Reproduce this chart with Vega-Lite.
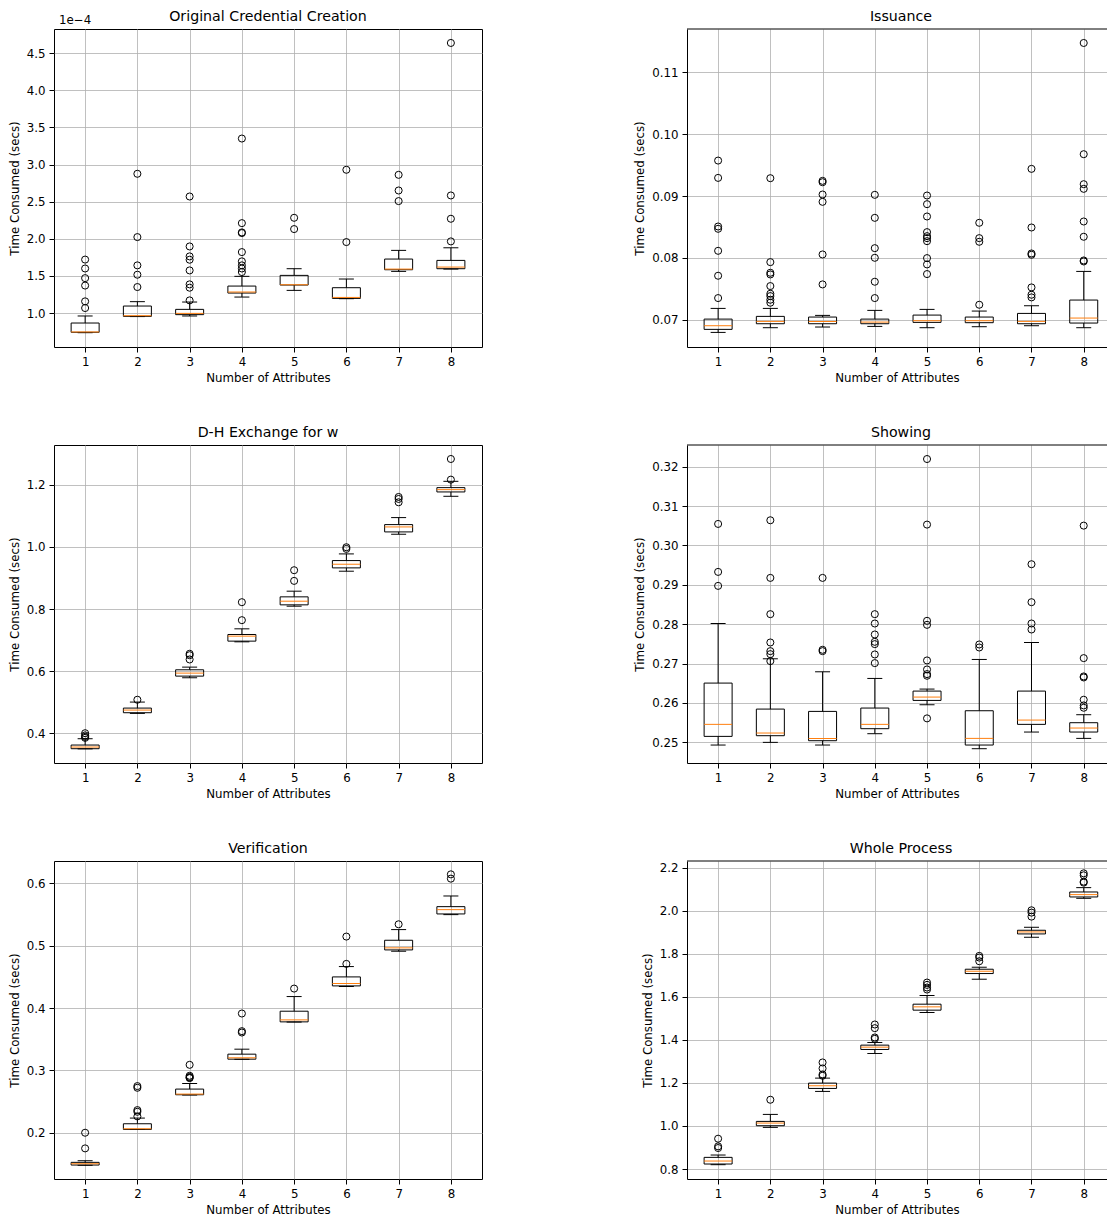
{
  "$schema": "https://vega.github.io/schema/vega-lite/v6.json",
  "padding": {"left": 8, "top": 9, "right": 0, "bottom": 0},
  "autosize": {"type": "pad"},
  "config": {
    "font": "DejaVu Sans",
    "view": {"stroke": "black", "strokeWidth": 1},
    "axis": {"grid": true, "gridColor": "#b0b0b0", "gridWidth": 0.8, "domain": false, "ticks": true, "tickColor": "black", "tickSize": 5, "tickWidth": 1, "labelFontSize": 11.8, "labelColor": "black", "labelPadding": 4, "titleFontSize": 11.8, "titleFontWeight": "normal", "titleColor": "black"},
    "axisX": {"titlePadding": 5, "labelAngle": 0},
    "axisY": {"titlePadding": 6},
    "title": {"fontSize": 14.2, "fontWeight": "normal", "color": "black", "offset": 5},
    "tick": {"opacity": 1},
    "point": {"opacity": 1}
  },
  "datasets": {
    "b1": [
      {"n": 1, "q1": 0.74, "med": 0.745, "q3": 0.865, "lo": 0.735, "hi": 0.96},
      {"n": 2, "q1": 0.955, "med": 0.964, "q3": 1.094, "lo": 0.952, "hi": 1.153},
      {"n": 3, "q1": 0.978, "med": 0.995, "q3": 1.049, "lo": 0.96, "hi": 1.148},
      {"n": 4, "q1": 1.269, "med": 1.283, "q3": 1.363, "lo": 1.215, "hi": 1.494},
      {"n": 5, "q1": 1.377, "med": 1.381, "q3": 1.507, "lo": 1.305, "hi": 1.597},
      {"n": 6, "q1": 1.197, "med": 1.21, "q3": 1.341, "lo": 1.193, "hi": 1.458},
      {"n": 7, "q1": 1.583, "med": 1.592, "q3": 1.727, "lo": 1.561, "hi": 1.844},
      {"n": 8, "q1": 1.597, "med": 1.619, "q3": 1.709, "lo": 1.592, "hi": 1.879}
    ],
    "o1": [
      {"n": 1, "v": 1.72}, {"n": 1, "v": 1.6}, {"n": 1, "v": 1.47}, {"n": 1, "v": 1.37}, {"n": 1, "v": 1.157}, {"n": 1, "v": 1.067},
      {"n": 2, "v": 2.876}, {"n": 2, "v": 2.023}, {"n": 2, "v": 1.642}, {"n": 2, "v": 1.516}, {"n": 2, "v": 1.35},
      {"n": 3, "v": 2.57}, {"n": 3, "v": 1.897}, {"n": 3, "v": 1.763}, {"n": 3, "v": 1.718}, {"n": 3, "v": 1.574}, {"n": 3, "v": 1.386}, {"n": 3, "v": 1.341}, {"n": 3, "v": 1.17},
      {"n": 4, "v": 3.351}, {"n": 4, "v": 2.211}, {"n": 4, "v": 2.086}, {"n": 4, "v": 2.077}, {"n": 4, "v": 1.821}, {"n": 4, "v": 1.696}, {"n": 4, "v": 1.642}, {"n": 4, "v": 1.6}, {"n": 4, "v": 1.552},
      {"n": 5, "v": 2.283}, {"n": 5, "v": 2.131},
      {"n": 6, "v": 2.93}, {"n": 6, "v": 1.956},
      {"n": 7, "v": 2.862}, {"n": 7, "v": 2.651}, {"n": 7, "v": 2.508},
      {"n": 8, "v": 4.639}, {"n": 8, "v": 2.584}, {"n": 8, "v": 2.27}, {"n": 8, "v": 1.965}
    ],
    "b2": [
      {"n": 1, "q1": 0.06844, "med": 0.06903, "q3": 0.0701, "lo": 0.06795, "hi": 0.07183},
      {"n": 2, "q1": 0.06935, "med": 0.06973, "q3": 0.07054, "lo": 0.06871, "hi": 0.07183},
      {"n": 3, "q1": 0.06935, "med": 0.06973, "q3": 0.07043, "lo": 0.06882, "hi": 0.0707},
      {"n": 4, "q1": 0.06935, "med": 0.06962, "q3": 0.0701, "lo": 0.06892, "hi": 0.07151},
      {"n": 5, "q1": 0.06957, "med": 0.06984, "q3": 0.07075, "lo": 0.06871, "hi": 0.07167},
      {"n": 6, "q1": 0.06952, "med": 0.06984, "q3": 0.07043, "lo": 0.06887, "hi": 0.0714},
      {"n": 7, "q1": 0.06935, "med": 0.06973, "q3": 0.07102, "lo": 0.06903, "hi": 0.07226},
      {"n": 8, "q1": 0.06946, "med": 0.07027, "q3": 0.07318, "lo": 0.06871, "hi": 0.07781}
    ],
    "o2": [
      {"n": 1, "v": 0.09573}, {"n": 1, "v": 0.09293}, {"n": 1, "v": 0.08507}, {"n": 1, "v": 0.0847}, {"n": 1, "v": 0.08114}, {"n": 1, "v": 0.07711}, {"n": 1, "v": 0.0735},
      {"n": 2, "v": 0.09288}, {"n": 2, "v": 0.07931}, {"n": 2, "v": 0.07759}, {"n": 2, "v": 0.07732}, {"n": 2, "v": 0.07544}, {"n": 2, "v": 0.0742}, {"n": 2, "v": 0.07382}, {"n": 2, "v": 0.07323}, {"n": 2, "v": 0.07275},
      {"n": 3, "v": 0.09245}, {"n": 3, "v": 0.09223}, {"n": 3, "v": 0.09024}, {"n": 3, "v": 0.08906}, {"n": 3, "v": 0.08055}, {"n": 3, "v": 0.07571},
      {"n": 4, "v": 0.09019}, {"n": 4, "v": 0.08647}, {"n": 4, "v": 0.08157}, {"n": 4, "v": 0.08001}, {"n": 4, "v": 0.07614}, {"n": 4, "v": 0.0735},
      {"n": 5, "v": 0.09008}, {"n": 5, "v": 0.08868}, {"n": 5, "v": 0.08669}, {"n": 5, "v": 0.08416}, {"n": 5, "v": 0.08351}, {"n": 5, "v": 0.08319}, {"n": 5, "v": 0.0827}, {"n": 5, "v": 0.07996}, {"n": 5, "v": 0.07894}, {"n": 5, "v": 0.07738},
      {"n": 6, "v": 0.08567}, {"n": 6, "v": 0.08319}, {"n": 6, "v": 0.0826}, {"n": 6, "v": 0.07242},
      {"n": 7, "v": 0.09439}, {"n": 7, "v": 0.08491}, {"n": 7, "v": 0.08071}, {"n": 7, "v": 0.0805}, {"n": 7, "v": 0.07522}, {"n": 7, "v": 0.07404}, {"n": 7, "v": 0.07361},
      {"n": 8, "v": 0.11474}, {"n": 8, "v": 0.09676}, {"n": 8, "v": 0.09191}, {"n": 8, "v": 0.09116}, {"n": 8, "v": 0.08588}, {"n": 8, "v": 0.08341}, {"n": 8, "v": 0.07958}, {"n": 8, "v": 0.07942}
    ],
    "b3": [
      {"n": 1, "q1": 0.3495, "med": 0.3549, "q3": 0.3613, "lo": 0.349, "hi": 0.3817},
      {"n": 2, "q1": 0.4655, "med": 0.4741, "q3": 0.4805, "lo": 0.4634, "hi": 0.4999},
      {"n": 3, "q1": 0.5836, "med": 0.5933, "q3": 0.604, "lo": 0.5783, "hi": 0.6126},
      {"n": 4, "q1": 0.6964, "med": 0.7125, "q3": 0.7178, "lo": 0.6942, "hi": 0.7361},
      {"n": 5, "q1": 0.8134, "med": 0.8252, "q3": 0.8392, "lo": 0.8091, "hi": 0.8575},
      {"n": 6, "q1": 0.9326, "med": 0.9444, "q3": 0.9562, "lo": 0.9219, "hi": 0.9777},
      {"n": 7, "q1": 1.0486, "med": 1.0647, "q3": 1.0722, "lo": 1.0411, "hi": 1.0948},
      {"n": 8, "q1": 1.1775, "med": 1.185, "q3": 1.1914, "lo": 1.1635, "hi": 1.2118}
    ],
    "o3": [
      {"n": 1, "v": 0.3995}, {"n": 1, "v": 0.3925}, {"n": 1, "v": 0.388}, {"n": 1, "v": 0.3845},
      {"n": 2, "v": 0.5074},
      {"n": 3, "v": 0.6556}, {"n": 3, "v": 0.651}, {"n": 3, "v": 0.6373},
      {"n": 4, "v": 0.822}, {"n": 4, "v": 0.764},
      {"n": 5, "v": 0.9251}, {"n": 5, "v": 0.8907},
      {"n": 6, "v": 0.9992}, {"n": 6, "v": 0.9938},
      {"n": 7, "v": 1.1613}, {"n": 7, "v": 1.1549}, {"n": 7, "v": 1.1442},
      {"n": 8, "v": 1.2838}, {"n": 8, "v": 1.2172}
    ],
    "b4": [
      {"n": 1, "q1": 0.25152, "med": 0.25457, "q3": 0.26505, "lo": 0.24932, "hi": 0.28018},
      {"n": 2, "q1": 0.25169, "med": 0.25237, "q3": 0.25845, "lo": 0.25, "hi": 0.27122},
      {"n": 3, "q1": 0.25042, "med": 0.25101, "q3": 0.25786, "lo": 0.24932, "hi": 0.26792},
      {"n": 4, "q1": 0.25347, "med": 0.25457, "q3": 0.25871, "lo": 0.2522, "hi": 0.26623},
      {"n": 5, "q1": 0.26065, "med": 0.2615, "q3": 0.26302, "lo": 0.25955, "hi": 0.26353},
      {"n": 6, "q1": 0.24932, "med": 0.25101, "q3": 0.25803, "lo": 0.24839, "hi": 0.27105},
      {"n": 7, "q1": 0.25457, "med": 0.25566, "q3": 0.26302, "lo": 0.25262, "hi": 0.27536},
      {"n": 8, "q1": 0.25262, "med": 0.25364, "q3": 0.25499, "lo": 0.25101, "hi": 0.25702}
    ],
    "o4": [
      {"n": 1, "v": 0.30546}, {"n": 1, "v": 0.29328}, {"n": 1, "v": 0.28973},
      {"n": 2, "v": 0.30639}, {"n": 2, "v": 0.29176}, {"n": 2, "v": 0.28255}, {"n": 2, "v": 0.27536}, {"n": 2, "v": 0.27316}, {"n": 2, "v": 0.2724}, {"n": 2, "v": 0.27063},
      {"n": 3, "v": 0.29176}, {"n": 3, "v": 0.2735}, {"n": 3, "v": 0.27316},
      {"n": 4, "v": 0.28255}, {"n": 4, "v": 0.28018}, {"n": 4, "v": 0.27739}, {"n": 4, "v": 0.27553}, {"n": 4, "v": 0.27494}, {"n": 4, "v": 0.27232}, {"n": 4, "v": 0.27012},
      {"n": 5, "v": 0.32194}, {"n": 5, "v": 0.30529}, {"n": 5, "v": 0.28086}, {"n": 5, "v": 0.27984}, {"n": 5, "v": 0.2708}, {"n": 5, "v": 0.26851}, {"n": 5, "v": 0.26733}, {"n": 5, "v": 0.26691}, {"n": 5, "v": 0.25609},
      {"n": 6, "v": 0.27485}, {"n": 6, "v": 0.27409},
      {"n": 7, "v": 0.29523}, {"n": 7, "v": 0.28559}, {"n": 7, "v": 0.28018}, {"n": 7, "v": 0.27866},
      {"n": 8, "v": 0.30503}, {"n": 8, "v": 0.27139}, {"n": 8, "v": 0.26674}, {"n": 8, "v": 0.26648}, {"n": 8, "v": 0.26082}, {"n": 8, "v": 0.25938}, {"n": 8, "v": 0.25879}
    ],
    "b5": [
      {"n": 1, "q1": 0.1482, "med": 0.1503, "q3": 0.1525, "lo": 0.1478, "hi": 0.1551},
      {"n": 2, "q1": 0.2053, "med": 0.2064, "q3": 0.2144, "lo": 0.2053, "hi": 0.2235},
      {"n": 3, "q1": 0.2609, "med": 0.262, "q3": 0.27, "lo": 0.2605, "hi": 0.279},
      {"n": 4, "q1": 0.318, "med": 0.3202, "q3": 0.326, "lo": 0.3178, "hi": 0.334},
      {"n": 5, "q1": 0.3778, "med": 0.381, "q3": 0.3949, "lo": 0.3775, "hi": 0.4184},
      {"n": 6, "q1": 0.4355, "med": 0.4393, "q3": 0.4499, "lo": 0.4345, "hi": 0.4665},
      {"n": 7, "q1": 0.4932, "med": 0.4965, "q3": 0.5087, "lo": 0.4911, "hi": 0.5258},
      {"n": 8, "q1": 0.5509, "med": 0.5578, "q3": 0.5626, "lo": 0.5498, "hi": 0.5797}
    ],
    "o5": [
      {"n": 1, "v": 0.2}, {"n": 1, "v": 0.1749},
      {"n": 2, "v": 0.2748}, {"n": 2, "v": 0.2721}, {"n": 2, "v": 0.2363}, {"n": 2, "v": 0.2336}, {"n": 2, "v": 0.2262},
      {"n": 3, "v": 0.3089}, {"n": 3, "v": 0.2913}, {"n": 3, "v": 0.2895}, {"n": 3, "v": 0.2884}, {"n": 3, "v": 0.2876},
      {"n": 4, "v": 0.3912}, {"n": 4, "v": 0.3629}, {"n": 4, "v": 0.3607},
      {"n": 5, "v": 0.4312},
      {"n": 6, "v": 0.5146}, {"n": 6, "v": 0.4708},
      {"n": 7, "v": 0.5343},
      {"n": 8, "v": 0.6144}, {"n": 8, "v": 0.6075}
    ],
    "b6": [
      {"n": 1, "q1": 0.8232, "med": 0.8371, "q3": 0.8541, "lo": 0.8201, "hi": 0.865},
      {"n": 2, "q1": 1.0011, "med": 1.0135, "q3": 1.0212, "lo": 0.9934, "hi": 1.0537},
      {"n": 3, "q1": 1.1744, "med": 1.1868, "q3": 1.1991, "lo": 1.1605, "hi": 1.2223},
      {"n": 4, "q1": 1.3554, "med": 1.3662, "q3": 1.3755, "lo": 1.3368, "hi": 1.3879},
      {"n": 5, "q1": 1.538, "med": 1.5534, "q3": 1.5658, "lo": 1.5271, "hi": 1.606},
      {"n": 6, "q1": 1.7081, "med": 1.7189, "q3": 1.7282, "lo": 1.6818, "hi": 1.7375},
      {"n": 7, "q1": 1.8922, "med": 1.9015, "q3": 1.9092, "lo": 1.8767, "hi": 1.9231},
      {"n": 8, "q1": 2.0639, "med": 2.0748, "q3": 2.0871, "lo": 2.0577, "hi": 2.1073}
    ],
    "o6": [
      {"n": 1, "v": 0.9408}, {"n": 1, "v": 0.9052}, {"n": 1, "v": 0.8975},
      {"n": 2, "v": 1.1218},
      {"n": 3, "v": 1.295}, {"n": 3, "v": 1.2672}, {"n": 3, "v": 1.2394}, {"n": 3, "v": 1.2332},
      {"n": 4, "v": 1.4714}, {"n": 4, "v": 1.4544}, {"n": 4, "v": 1.4111}, {"n": 4, "v": 1.4049},
      {"n": 5, "v": 1.6663}, {"n": 5, "v": 1.6555}, {"n": 5, "v": 1.6431}, {"n": 5, "v": 1.6338},
      {"n": 6, "v": 1.7901}, {"n": 6, "v": 1.7824}, {"n": 6, "v": 1.7653},
      {"n": 7, "v": 2.002}, {"n": 7, "v": 1.9912}, {"n": 7, "v": 1.9726},
      {"n": 8, "v": 2.1737}, {"n": 8, "v": 2.1645}, {"n": 8, "v": 2.1351}, {"n": 8, "v": 2.1305}
    ]
  },
  "columns": 2,
  "bounds": "flush",
  "spacing": {"row": 98, "column": 205},
  "concat": [
    {
      "title": {"text": "Original Credential Creation", "offset": -9},
      "width": 428, "height": 318,
      "layer": [
        {"data": {"name": "b1"}, "mark": {"type": "rule", "color": "black", "strokeWidth": 1},
         "encoding": {
           "x": {"field": "n", "type": "quantitative", "scale": {"domain": [0.5, 8.5], "nice": false, "zero": false}, "axis": {"values": [1, 2, 3, 4, 5, 6, 7, 8], "format": "d", "title": "Number of Attributes"}},
           "y": {"field": "q3", "type": "quantitative", "scale": {"domain": [0.542, 4.827], "nice": false, "zero": false}, "axis": {"values": [1, 1.5, 2, 2.5, 3, 3.5, 4, 4.5], "format": ".1f", "title": "Time Consumed (secs)"}},
           "y2": {"field": "hi"}}},
        {"data": {"name": "b1"}, "mark": {"type": "rule", "color": "black", "strokeWidth": 1}, "encoding": {"x": {"field": "n", "type": "quantitative"}, "y": {"field": "lo", "type": "quantitative"}, "y2": {"field": "q1"}}},
        {"data": {"name": "b1"}, "mark": {"type": "tick", "orient": "horizontal", "size": 15, "thickness": 1, "color": "black"}, "encoding": {"x": {"field": "n", "type": "quantitative"}, "y": {"field": "hi", "type": "quantitative"}}},
        {"data": {"name": "b1"}, "mark": {"type": "tick", "orient": "horizontal", "size": 15, "thickness": 1, "color": "black"}, "encoding": {"x": {"field": "n", "type": "quantitative"}, "y": {"field": "lo", "type": "quantitative"}}},
        {"data": {"name": "b1"}, "mark": {"type": "bar", "width": 28, "fill": "white", "fillOpacity": 0, "stroke": "black", "strokeWidth": 1}, "encoding": {"x": {"field": "n", "type": "quantitative"}, "y": {"field": "q1", "type": "quantitative"}, "y2": {"field": "q3"}}},
        {"data": {"name": "b1"}, "mark": {"type": "tick", "orient": "horizontal", "size": 28, "thickness": 1, "color": "#ff7f0e"}, "encoding": {"x": {"field": "n", "type": "quantitative"}, "y": {"field": "med", "type": "quantitative"}}},
        {"data": {"name": "o1"}, "mark": {"type": "point", "shape": "circle", "filled": false, "size": 50, "color": "black", "strokeWidth": 1}, "encoding": {"x": {"field": "n", "type": "quantitative"}, "y": {"field": "v", "type": "quantitative"}}},
        {"data": {"values": [{"t": "1e−4"}]}, "mark": {"type": "text", "align": "left", "baseline": "bottom", "dy": -3, "fontSize": 11.8, "color": "black"}, "encoding": {"x": {"datum": 0.5}, "y": {"datum": 4.827}, "text": {"field": "t"}}}
      ]
    },
    {
      "title": {"text": "Issuance", "dx": 4, "offset": 4},
      "width": 420, "height": 318,
      "view": {"stroke": null},
      "layer": [
        {"data": {"name": "b2"}, "mark": {"type": "rule", "color": "black", "strokeWidth": 1},
         "encoding": {
           "x": {"field": "n", "type": "quantitative", "scale": {"domain": [0.5, 8.35], "nice": false, "zero": false}, "axis": {"values": [1, 2, 3, 4, 5, 6, 7, 8], "format": "d", "title": "Number of Attributes", "domain": true, "domainColor": "black", "domainWidth": 1}},
           "y": {"field": "q3", "type": "quantitative", "scale": {"domain": [0.06559, 0.117], "nice": false, "zero": false}, "axis": {"values": [0.07, 0.08, 0.09, 0.1, 0.11], "format": ".2f", "title": "Time Consumed (secs)", "domain": true, "domainColor": "black", "domainWidth": 1}},
           "y2": {"field": "hi"}}},
        {"data": {"name": "b2"}, "mark": {"type": "rule", "color": "black", "strokeWidth": 1}, "encoding": {"x": {"field": "n", "type": "quantitative"}, "y": {"field": "lo", "type": "quantitative"}, "y2": {"field": "q1"}}},
        {"data": {"name": "b2"}, "mark": {"type": "tick", "orient": "horizontal", "size": 15, "thickness": 1, "color": "black"}, "encoding": {"x": {"field": "n", "type": "quantitative"}, "y": {"field": "hi", "type": "quantitative"}}},
        {"data": {"name": "b2"}, "mark": {"type": "tick", "orient": "horizontal", "size": 15, "thickness": 1, "color": "black"}, "encoding": {"x": {"field": "n", "type": "quantitative"}, "y": {"field": "lo", "type": "quantitative"}}},
        {"data": {"name": "b2"}, "mark": {"type": "bar", "width": 28, "fill": "white", "fillOpacity": 0, "stroke": "black", "strokeWidth": 1}, "encoding": {"x": {"field": "n", "type": "quantitative"}, "y": {"field": "q1", "type": "quantitative"}, "y2": {"field": "q3"}}},
        {"data": {"name": "b2"}, "mark": {"type": "tick", "orient": "horizontal", "size": 28, "thickness": 1, "color": "#ff7f0e"}, "encoding": {"x": {"field": "n", "type": "quantitative"}, "y": {"field": "med", "type": "quantitative"}}},
        {"data": {"name": "o2"}, "mark": {"type": "point", "shape": "circle", "filled": false, "size": 50, "color": "black", "strokeWidth": 1}, "encoding": {"x": {"field": "n", "type": "quantitative"}, "y": {"field": "v", "type": "quantitative"}}},
        {"data": {"values": [{}]}, "mark": {"type": "rule", "color": "black", "strokeWidth": 1}, "encoding": {"y": {"datum": 0.117}}}
      ]
    },
    {
      "title": "D-H Exchange for w",
      "width": 428, "height": 318,
      "layer": [
        {"data": {"name": "b3"}, "mark": {"type": "rule", "color": "black", "strokeWidth": 1},
         "encoding": {
           "x": {"field": "n", "type": "quantitative", "scale": {"domain": [0.5, 8.5], "nice": false, "zero": false}, "axis": {"values": [1, 2, 3, 4, 5, 6, 7, 8], "format": "d", "title": "Number of Attributes"}},
           "y": {"field": "q3", "type": "quantitative", "scale": {"domain": [0.3034, 1.3289], "nice": false, "zero": false}, "axis": {"values": [0.4, 0.6, 0.8, 1.0, 1.2], "format": ".1f", "title": "Time Consumed (secs)"}},
           "y2": {"field": "hi"}}},
        {"data": {"name": "b3"}, "mark": {"type": "rule", "color": "black", "strokeWidth": 1}, "encoding": {"x": {"field": "n", "type": "quantitative"}, "y": {"field": "lo", "type": "quantitative"}, "y2": {"field": "q1"}}},
        {"data": {"name": "b3"}, "mark": {"type": "tick", "orient": "horizontal", "size": 15, "thickness": 1, "color": "black"}, "encoding": {"x": {"field": "n", "type": "quantitative"}, "y": {"field": "hi", "type": "quantitative"}}},
        {"data": {"name": "b3"}, "mark": {"type": "tick", "orient": "horizontal", "size": 15, "thickness": 1, "color": "black"}, "encoding": {"x": {"field": "n", "type": "quantitative"}, "y": {"field": "lo", "type": "quantitative"}}},
        {"data": {"name": "b3"}, "mark": {"type": "bar", "width": 28, "fill": "white", "fillOpacity": 0, "stroke": "black", "strokeWidth": 1}, "encoding": {"x": {"field": "n", "type": "quantitative"}, "y": {"field": "q1", "type": "quantitative"}, "y2": {"field": "q3"}}},
        {"data": {"name": "b3"}, "mark": {"type": "tick", "orient": "horizontal", "size": 28, "thickness": 1, "color": "#ff7f0e"}, "encoding": {"x": {"field": "n", "type": "quantitative"}, "y": {"field": "med", "type": "quantitative"}}},
        {"data": {"name": "o3"}, "mark": {"type": "point", "shape": "circle", "filled": false, "size": 50, "color": "black", "strokeWidth": 1}, "encoding": {"x": {"field": "n", "type": "quantitative"}, "y": {"field": "v", "type": "quantitative"}}}
      ]
    },
    {
      "title": {"text": "Showing", "dx": 4, "offset": 4},
      "width": 420, "height": 318,
      "view": {"stroke": null},
      "layer": [
        {"data": {"name": "b4"}, "mark": {"type": "rule", "color": "black", "strokeWidth": 1},
         "encoding": {
           "x": {"field": "n", "type": "quantitative", "scale": {"domain": [0.5, 8.35], "nice": false, "zero": false}, "axis": {"values": [1, 2, 3, 4, 5, 6, 7, 8], "format": "d", "title": "Number of Attributes", "domain": true, "domainColor": "black", "domainWidth": 1}},
           "y": {"field": "q3", "type": "quantitative", "scale": {"domain": [0.24476, 0.3255], "nice": false, "zero": false}, "axis": {"values": [0.25, 0.26, 0.27, 0.28, 0.29, 0.3, 0.31, 0.32], "format": ".2f", "title": "Time Consumed (secs)", "domain": true, "domainColor": "black", "domainWidth": 1}},
           "y2": {"field": "hi"}}},
        {"data": {"name": "b4"}, "mark": {"type": "rule", "color": "black", "strokeWidth": 1}, "encoding": {"x": {"field": "n", "type": "quantitative"}, "y": {"field": "lo", "type": "quantitative"}, "y2": {"field": "q1"}}},
        {"data": {"name": "b4"}, "mark": {"type": "tick", "orient": "horizontal", "size": 15, "thickness": 1, "color": "black"}, "encoding": {"x": {"field": "n", "type": "quantitative"}, "y": {"field": "hi", "type": "quantitative"}}},
        {"data": {"name": "b4"}, "mark": {"type": "tick", "orient": "horizontal", "size": 15, "thickness": 1, "color": "black"}, "encoding": {"x": {"field": "n", "type": "quantitative"}, "y": {"field": "lo", "type": "quantitative"}}},
        {"data": {"name": "b4"}, "mark": {"type": "bar", "width": 28, "fill": "white", "fillOpacity": 0, "stroke": "black", "strokeWidth": 1}, "encoding": {"x": {"field": "n", "type": "quantitative"}, "y": {"field": "q1", "type": "quantitative"}, "y2": {"field": "q3"}}},
        {"data": {"name": "b4"}, "mark": {"type": "tick", "orient": "horizontal", "size": 28, "thickness": 1, "color": "#ff7f0e"}, "encoding": {"x": {"field": "n", "type": "quantitative"}, "y": {"field": "med", "type": "quantitative"}}},
        {"data": {"name": "o4"}, "mark": {"type": "point", "shape": "circle", "filled": false, "size": 50, "color": "black", "strokeWidth": 1}, "encoding": {"x": {"field": "n", "type": "quantitative"}, "y": {"field": "v", "type": "quantitative"}}},
        {"data": {"values": [{}]}, "mark": {"type": "rule", "color": "black", "strokeWidth": 1}, "encoding": {"y": {"datum": 0.3255}}}
      ]
    },
    {
      "title": "Verification",
      "width": 428, "height": 318,
      "layer": [
        {"data": {"name": "b5"}, "mark": {"type": "rule", "color": "black", "strokeWidth": 1},
         "encoding": {
           "x": {"field": "n", "type": "quantitative", "scale": {"domain": [0.5, 8.5], "nice": false, "zero": false}, "axis": {"values": [1, 2, 3, 4, 5, 6, 7, 8], "format": "d", "title": "Number of Attributes"}},
           "y": {"field": "q3", "type": "quantitative", "scale": {"domain": [0.1258, 0.6358], "nice": false, "zero": false}, "axis": {"values": [0.2, 0.3, 0.4, 0.5, 0.6], "format": ".1f", "title": "Time Consumed (secs)"}},
           "y2": {"field": "hi"}}},
        {"data": {"name": "b5"}, "mark": {"type": "rule", "color": "black", "strokeWidth": 1}, "encoding": {"x": {"field": "n", "type": "quantitative"}, "y": {"field": "lo", "type": "quantitative"}, "y2": {"field": "q1"}}},
        {"data": {"name": "b5"}, "mark": {"type": "tick", "orient": "horizontal", "size": 15, "thickness": 1, "color": "black"}, "encoding": {"x": {"field": "n", "type": "quantitative"}, "y": {"field": "hi", "type": "quantitative"}}},
        {"data": {"name": "b5"}, "mark": {"type": "tick", "orient": "horizontal", "size": 15, "thickness": 1, "color": "black"}, "encoding": {"x": {"field": "n", "type": "quantitative"}, "y": {"field": "lo", "type": "quantitative"}}},
        {"data": {"name": "b5"}, "mark": {"type": "bar", "width": 28, "fill": "white", "fillOpacity": 0, "stroke": "black", "strokeWidth": 1}, "encoding": {"x": {"field": "n", "type": "quantitative"}, "y": {"field": "q1", "type": "quantitative"}, "y2": {"field": "q3"}}},
        {"data": {"name": "b5"}, "mark": {"type": "tick", "orient": "horizontal", "size": 28, "thickness": 1, "color": "#ff7f0e"}, "encoding": {"x": {"field": "n", "type": "quantitative"}, "y": {"field": "med", "type": "quantitative"}}},
        {"data": {"name": "o5"}, "mark": {"type": "point", "shape": "circle", "filled": false, "size": 50, "color": "black", "strokeWidth": 1}, "encoding": {"x": {"field": "n", "type": "quantitative"}, "y": {"field": "v", "type": "quantitative"}}}
      ]
    },
    {
      "title": {"text": "Whole Process", "dx": 4, "offset": 4},
      "width": 420, "height": 318,
      "view": {"stroke": null},
      "layer": [
        {"data": {"name": "b6"}, "mark": {"type": "rule", "color": "black", "strokeWidth": 1},
         "encoding": {
           "x": {"field": "n", "type": "quantitative", "scale": {"domain": [0.5, 8.35], "nice": false, "zero": false}, "axis": {"values": [1, 2, 3, 4, 5, 6, 7, 8], "format": "d", "title": "Number of Attributes", "domain": true, "domainColor": "black", "domainWidth": 1}},
           "y": {"field": "q3", "type": "quantitative", "scale": {"domain": [0.7536, 2.231], "nice": false, "zero": false}, "axis": {"values": [0.8, 1.0, 1.2, 1.4, 1.6, 1.8, 2.0, 2.2], "format": ".1f", "title": "Time Consumed (secs)", "domain": true, "domainColor": "black", "domainWidth": 1}},
           "y2": {"field": "hi"}}},
        {"data": {"name": "b6"}, "mark": {"type": "rule", "color": "black", "strokeWidth": 1}, "encoding": {"x": {"field": "n", "type": "quantitative"}, "y": {"field": "lo", "type": "quantitative"}, "y2": {"field": "q1"}}},
        {"data": {"name": "b6"}, "mark": {"type": "tick", "orient": "horizontal", "size": 15, "thickness": 1, "color": "black"}, "encoding": {"x": {"field": "n", "type": "quantitative"}, "y": {"field": "hi", "type": "quantitative"}}},
        {"data": {"name": "b6"}, "mark": {"type": "tick", "orient": "horizontal", "size": 15, "thickness": 1, "color": "black"}, "encoding": {"x": {"field": "n", "type": "quantitative"}, "y": {"field": "lo", "type": "quantitative"}}},
        {"data": {"name": "b6"}, "mark": {"type": "bar", "width": 28, "fill": "white", "fillOpacity": 0, "stroke": "black", "strokeWidth": 1}, "encoding": {"x": {"field": "n", "type": "quantitative"}, "y": {"field": "q1", "type": "quantitative"}, "y2": {"field": "q3"}}},
        {"data": {"name": "b6"}, "mark": {"type": "tick", "orient": "horizontal", "size": 28, "thickness": 1, "color": "#ff7f0e"}, "encoding": {"x": {"field": "n", "type": "quantitative"}, "y": {"field": "med", "type": "quantitative"}}},
        {"data": {"name": "o6"}, "mark": {"type": "point", "shape": "circle", "filled": false, "size": 50, "color": "black", "strokeWidth": 1}, "encoding": {"x": {"field": "n", "type": "quantitative"}, "y": {"field": "v", "type": "quantitative"}}},
        {"data": {"values": [{}]}, "mark": {"type": "rule", "color": "black", "strokeWidth": 1}, "encoding": {"y": {"datum": 2.231}}}
      ]
    }
  ]
}
